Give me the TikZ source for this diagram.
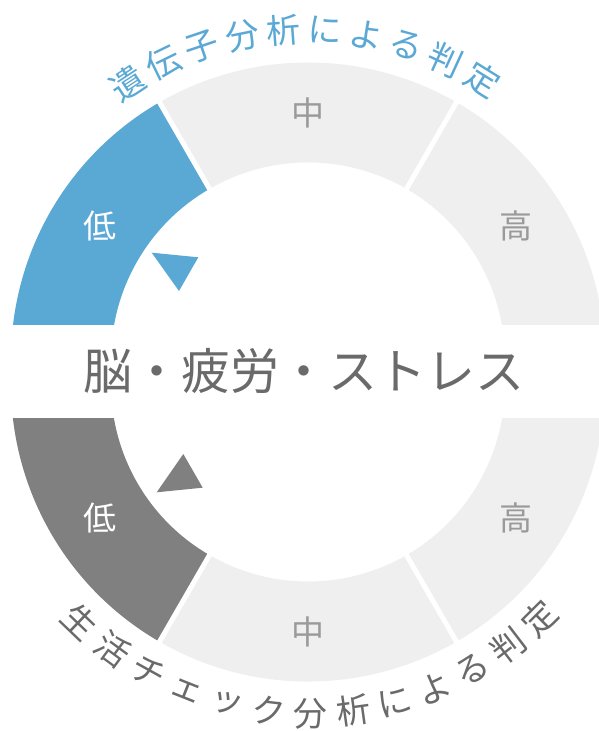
\documentclass[tikz,border=0pt]{standalone}
\usepackage{fontspec}
\newfontfamily\jp{Noto Sans CJK JP}
\definecolor{gblue}{HTML}{5AA8D4}
\definecolor{gdark}{HTML}{808080}
\definecolor{glight}{HTML}{EFEFEF}
\definecolor{glabel}{HTML}{9A9A9A}
\definecolor{gtext}{HTML}{6A6A6A}
\begin{document}
\begin{tikzpicture}[x=1pt,y=1pt,
  lbl/.style={font=\jp\fontsize{33}{33}\selectfont, inner sep=0pt},
  arcchar/.style={font=\jp\fontsize{34}{34}\selectfont, inner sep=0pt},
  sep/.style={white, line width=5pt}]
\useasboundingbox (0,0) rectangle (599,731);
\clip (0,0) rectangle (599,731);
\coordinate (ct) at (308,371.5);
\coordinate (cb) at (308,346.5);
% top gauge
\begin{scope}
  \clip (0,406) rectangle (599,731);
  \begin{scope}[shift={(ct)}]
    \fill[glight] (-20:297) arc[start angle=-20,end angle=120,radius=297] -- (120:197) arc[start angle=120,end angle=-20,radius=197] -- cycle;
    \fill[gblue] (120:297) arc[start angle=120,end angle=200,radius=297] -- (200:197) arc[start angle=200,end angle=120,radius=197] -- cycle;
    \draw[sep] (60:190) -- (60:305);
    \draw[sep] (120:190) -- (120:305);
  \end{scope}
\end{scope}
% bottom gauge
\begin{scope}
  \clip (0,0) rectangle (599,312);
  \begin{scope}[shift={(cb)}]
    \fill[glight] (240:297) arc[start angle=240,end angle=380,radius=297] -- (380:197) arc[start angle=380,end angle=240,radius=197] -- cycle;
    \fill[gdark] (160:297) arc[start angle=160,end angle=240,radius=297] -- (240:197) arc[start angle=240,end angle=160,radius=197] -- cycle;
    \draw[sep] (240:190) -- (240:305);
    \draw[sep] (300:190) -- (300:305);
  \end{scope}
\end{scope}
% pointers
\fill[gblue] (151.7,478.3) -- (198.3,473.7) -- (179,440) -- cycle;
\fill[gdark] (183.3,277) -- (202.7,243.3) -- (156.7,238.7) -- cycle;
% labels
\begin{scope}[shift={(ct)}]
  \node[lbl,text=white] (tlow) at (147.2:247) {低};
  \node[lbl,text=glabel] (tmid) at (90:247) {中};
  \node[lbl,text=glabel] (thigh) at (32.8:247) {高};
  \foreach \ch [count=\i from 0] in {遺,伝,子,分,析,に,よ,る,判,定} {
    \pgfmathsetmacro\ang{90.65+(4.5-\i)*7.23}
    \node[arcchar,text=gblue,rotate=\ang-90] (top\i) at (\ang:330) {\ch};
  }
\end{scope}
\begin{scope}[shift={(cb)}]
  \node[lbl,text=white] (blow) at (212.8:247) {低};
  \node[lbl,text=glabel] (bmid) at (270:247) {中};
  \node[lbl,text=glabel] (bhigh) at (327.2:247) {高};
  \foreach \ch [count=\i from 0] in {生,活,チ,ェ,ッ,ク,分,析,に,よ,る,判,定} {
    \pgfmathsetmacro\ang{270.5+(\i-6)*7.38}
    \node[arcchar,text=gtext,rotate=\ang+90] (bot\i) at (\ang:329) {\ch};
  }
\end{scope}
\node[font=\jp\fontsize{49}{49}\selectfont, text=gtext, inner sep=0pt] (title) at (304,360.5) {脳・疲労・ストレス};
\end{tikzpicture}
\end{document}
